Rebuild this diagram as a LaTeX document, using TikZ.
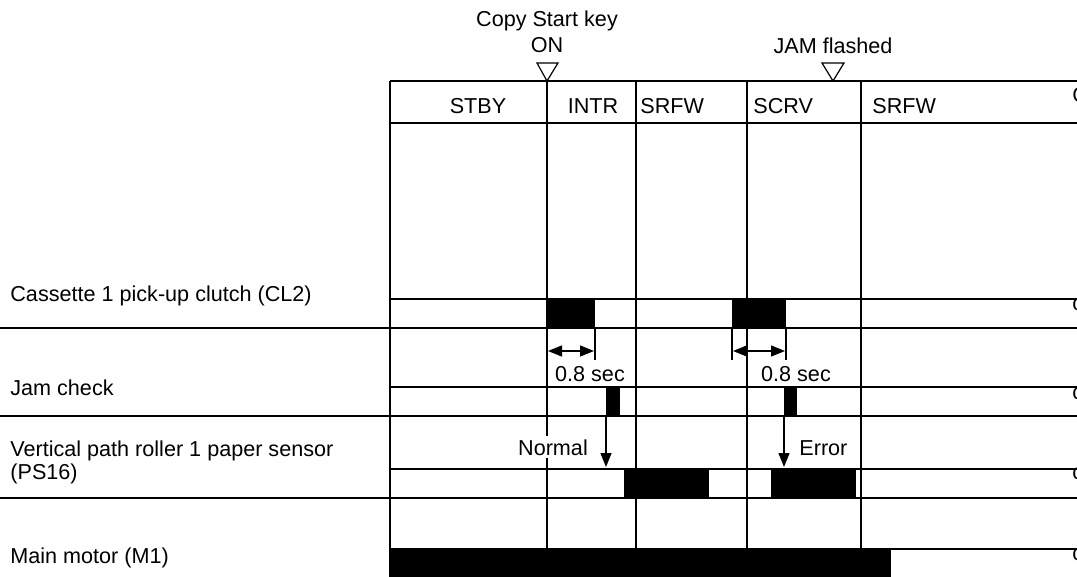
\documentclass[tikz,border=0pt]{standalone}
\usepackage{fontspec}
\setmainfont{Liberation Sans}
\usetikzlibrary{arrows.meta}
\begin{document}
\begin{tikzpicture}[x=0.5pt,y=-0.5pt,
  thinline/.style={line width=0.65pt},
  thickline/.style={line width=1.2pt},
  lbl/.style={font=\fontsize{10.8}{13}\selectfont, inner sep=0pt},
  pulse/.style={fill=black},
  marker/.style={draw, line width=0.6pt, fill=white},
  dimarrow/.style={line width=0.65pt, {Triangle[length=7pt,width=5.5pt]}-{Triangle[length=7pt,width=5.5pt]}},
  downarrow/.style={line width=0.65pt, -{Triangle[length=7pt,width=5.5pt]}}]
\useasboundingbox (0,0) rectangle (1077,577);
\begin{scope}
\clip (0,0) rectangle (1077,577);
% pulses
\fill[pulse] (547,299) rectangle (595,328);
\fill[pulse] (732,299) rectangle (786,328);
\fill[pulse] (606,387) rectangle (620,416);
\fill[pulse] (784,387) rectangle (797,416);
\fill[pulse] (624,469) rectangle (709,498);
\fill[pulse] (771,469) rectangle (856,498);
\fill[pulse] (390,549) rectangle (891,577);
% coordinates
\coordinate (atop) at (547,81); \coordinate (abot) at (547,549);
\coordinate (btop) at (636,81); \coordinate (bbot) at (636,549);
\coordinate (ctop) at (747,81); \coordinate (cbot) at (747,549);
\coordinate (dtop) at (861,81); \coordinate (dbot) at (861,549);
% vertical interval lines
\draw[thinline] (atop) -- (abot);
\draw[thinline] (btop) -- (bbot);
\draw[thinline] (ctop) -- (cbot);
\draw[thinline] (dtop) -- (dbot);
% frame lines
\draw[thickline] (390,81) -- (1077,81);
\draw[thickline] (390,123) -- (1077,123);
\draw[thickline] (390,81) -- (390,577);
\foreach \y in {299,387,469,549}{ \draw[thinline] (390,\y) -- (1077,\y); }
\foreach \y in {328,416,498}{ \draw[thickline] (0,\y) -- (1077,\y); }
% dimension ticks
\coordinate (t1a) at (595,328); \coordinate (t1b) at (595,360);
\coordinate (t2a) at (732,328); \coordinate (t2b) at (732,360);
\coordinate (t3a) at (786,328); \coordinate (t3b) at (786,360);
\draw[thinline] (t1a) -- (t1b);
\draw[thinline] (t2a) -- (t2b);
\draw[thinline] (t3a) -- (t3b);
\coordinate (d1l) at (548,351); \coordinate (d1r) at (594,351);
\coordinate (d2l) at (733,351); \coordinate (d2r) at (785,351);
\draw[dimarrow] (d1l) -- (d1r);
\draw[dimarrow] (d2l) -- (d2r);
% labels in header
\node[lbl, anchor=base] (stby) at (478,114) {STBY};
\node[lbl, anchor=base] (intr) at (593,114) {INTR};
\node[lbl, anchor=base west] (srfw1) at (640,114) {SRFW};
\node[lbl, anchor=base west] (scrv) at (753,114) {SCRV};
\node[lbl, anchor=base west] (srfw2) at (872,114) {SRFW};
% markers
\draw[marker] (537,63) -- (558,63) -- (atop) -- cycle;
\coordinate (jamtip) at (833,81);
\draw[marker] (822,63) -- (844,63) -- (jamtip) -- cycle;
\node[lbl, anchor=base] (copy) at (547,27) {Copy Start key};
\node[lbl, anchor=base] (on) at (547,53) {ON};
\node[lbl, anchor=base] (jam) at (833,54) {JAM flashed};
% sec labels
\node[lbl, anchor=base] (sec1) at (590,381) {0.8 sec};
\node[lbl, anchor=base] (sec2) at (796,381) {0.8 sec};
% normal / error arrows
\coordinate (n1) at (606,416); \coordinate (n2) at (606,467);
\coordinate (e1) at (784,416); \coordinate (e2) at (784,467);
\draw[downarrow] (n1) -- (n2);
\draw[downarrow] (e1) -- (e2);
\node[lbl, anchor=base, fill=white, inner sep=1.5pt] (normal) at (553,455) {Normal};
\node[lbl, anchor=base west] (error) at (799,455) {Error};
% left labels
\node[lbl, anchor=base west] (cl2) at (10,302) {Cassette 1 pick-up clutch (CL2)};
\node[lbl, anchor=base west] (jc) at (10,395) {Jam check};
\node[lbl, anchor=base west] (ps16a) at (10,457) {Vertical path roller 1 paper sensor};
\node[lbl, anchor=base west] (ps16b) at (10,480) {(PS16)};
\node[lbl, anchor=base west] (m1) at (10,563) {Main motor (M1)};
% cut-off glyphs at right edge
\node[lbl, anchor=base west] (r0) at (1072,103) {C};
\node[lbl, anchor=base west] (r1) at (1072,311) {c};
\node[lbl, anchor=base west] (r2) at (1072,400) {c};
\node[lbl, anchor=base west] (r3) at (1072,480) {c};
\node[lbl, anchor=base west] (r4) at (1072,560) {c};
\end{scope}
\end{tikzpicture}
\end{document}
